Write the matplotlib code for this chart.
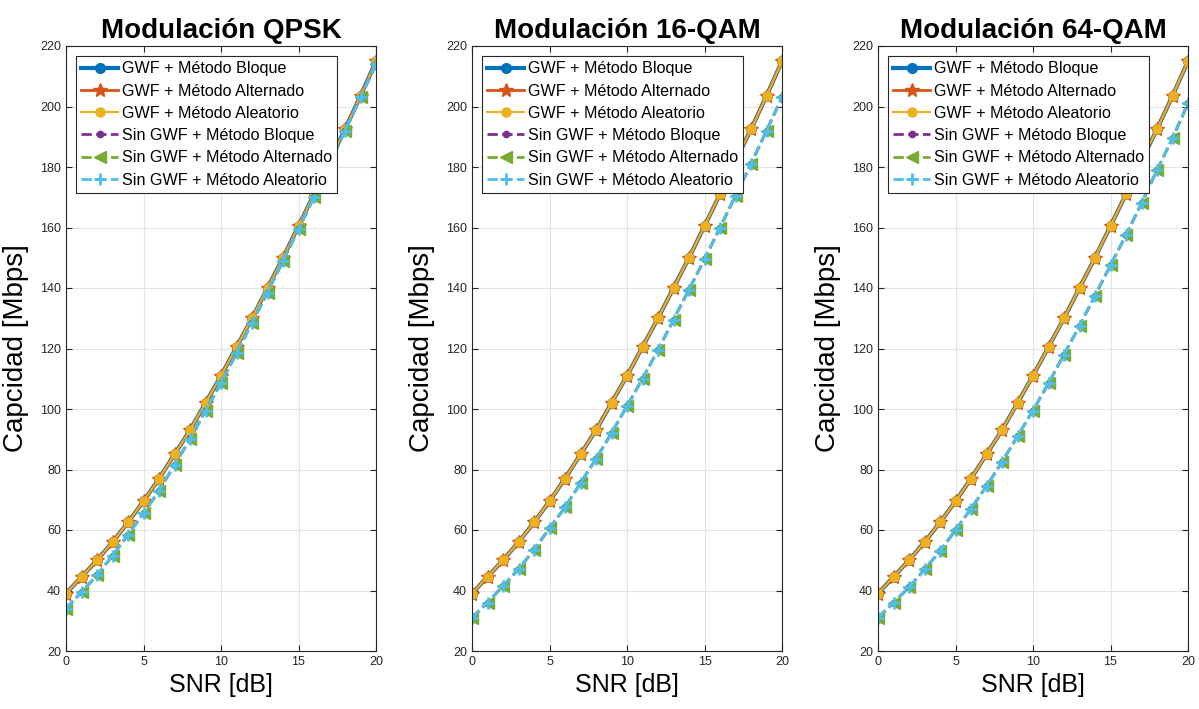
import numpy as np
import matplotlib
matplotlib.use('Agg')
import matplotlib.pyplot as plt

plt.rcParams['font.family'] = ['Liberation Sans', 'DejaVu Sans']

#----------------------------------------------------------------------
# Data

snr = np.arange(0, 21)

titles = ['Modulación QPSK', 'Modulación 16-QAM', 'Modulación 64-QAM']

# GWF curves (the three methods overlap)
gwf = [39, 44.5, 50, 56, 62.5, 69.5, 77, 85, 93, 102, 111, 120.5, 130,
       140, 150, 160.5, 171, 182, 192.5, 203.5, 215]

# Sin GWF curves per modulation (the three methods overlap)
sin_qpsk = [34, 39.5, 45, 51.5, 58.5, 65.5, 73, 81.5, 90, 99.5, 108.5,
            118.5, 128.5, 138.5, 149, 159.5, 170, 181, 192, 203, 214]
sin_16qam = [31, 36, 41.5, 47, 53.5, 60.5, 67.5, 75.5, 83.5, 92, 101,
             110, 119.5, 129.5, 139.5, 149.5, 160, 170.5, 181, 192, 203]
sin_64qam = [31, 36, 41, 47, 53, 60, 67, 74.5, 82.5, 91, 99.5, 108.5,
             118, 127.5, 137.5, 147.5, 157.5, 168, 179, 189.5, 201]
sin_gwf = [sin_qpsk, sin_16qam, sin_64qam]

labels = ['GWF + Método Bloque', 'GWF + Método Alternado',
          'GWF + Método Aleatorio', 'Sin GWF + Método Bloque',
          'Sin GWF + Método Alternado', 'Sin GWF + Método Aleatorio']

#----------------------------------------------------------------------
# Plotting

fig = plt.figure(figsize=(11.99, 7.09), dpi=100)
W, H = 1199.0, 709.0
lefts = [66, 472, 878]

for i in range(3):
    ax = fig.add_axes([lefts[i] / W, 1 - 651 / H, 310 / W, 605 / H])
    g = np.array(gwf)
    s = np.array(sin_gwf[i])

    ax.plot(snr, g, '-o', color='#0072BD', lw=3, ms=7,
            mec='#0072BD', mfc='#0072BD', label=labels[0])
    ax.plot(snr, g, '-*', color='#D95319', lw=2, ms=10,
            mec='#D95319', label=labels[1])
    ax.plot(snr, g, '-o', color='#EDB120', lw=1.5, ms=6.5,
            mec='#EDB120', mfc='#EDB120', label=labels[2])
    ax.plot(snr, s, '--.', color='#7E2F8E', lw=2, ms=9, label=labels[3])
    ax.plot(snr, s, '--<', color='#77AC30', lw=2, ms=8, label=labels[4])
    ax.plot(snr, s, '--+', color='#4DBEEE', lw=2, ms=8, mew=2,
            label=labels[5])

    ax.set_xlim(0, 20)
    ax.set_ylim(20, 220)
    ax.set_xticks([0, 5, 10, 15, 20])
    ax.set_yticks(np.arange(20, 221, 20))
    ax.grid(True, color='#e3e3e3', lw=0.8)
    ax.set_axisbelow(True)
    ax.tick_params(direction='in', labelsize=9, colors='#262626',
                   top=True, right=True, length=4)
    for sp in ax.spines.values():
        sp.set_color('#262626')
        sp.set_linewidth(0.8)

    ax.set_title(titles[i], fontsize=20, fontweight='bold', pad=6)
    ax.set_xlabel('SNR [dB]', fontsize=18, labelpad=4)
    ax.set_ylabel('Capcidad [Mbps]', fontsize=20, labelpad=8)

    leg = ax.legend(loc='upper left', fontsize=11.6, fancybox=False,
                    framealpha=1, edgecolor='#262626', handlelength=2.3,
                    handletextpad=0.2, borderpad=0.35, labelspacing=0.45,
                    borderaxespad=0.6)
    leg.get_frame().set_linewidth(0.8)

fig.savefig('out.png', dpi=100)
